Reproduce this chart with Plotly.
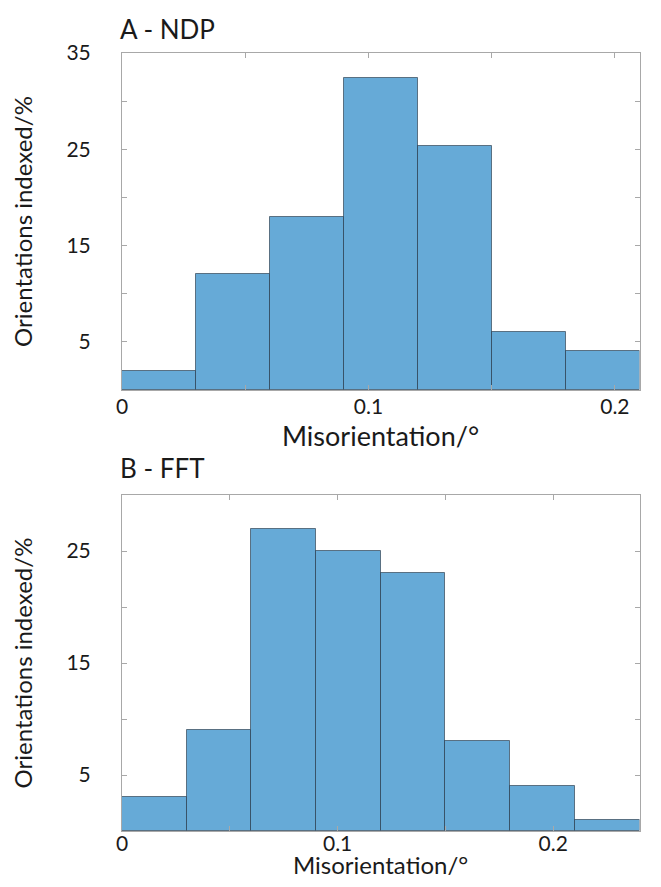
import plotly.graph_objects as go

# ---- data ----
bin_width = 0.03
ndp_bin_starts = [0.0, 0.03, 0.06, 0.09, 0.12, 0.15, 0.18]
ndp_values = [2, 12, 18, 32.4, 25.3, 6, 4]
fft_bin_starts = [0.0, 0.03, 0.06, 0.09, 0.12, 0.15, 0.18, 0.21]
fft_values = [3, 9, 27, 25, 23, 8, 4, 1]

x_tickvals = [0, 0.05, 0.1, 0.15, 0.2]
x_ticktext = ["0", "", "0.1", "", "0.2"]
ndp_y_tickvals = [0, 5, 10, 15, 20, 25, 30, 35]
ndp_y_ticktext = ["", "5", "", "15", "", "25", "", "35"]
fft_y_tickvals = [0, 5, 10, 15, 20, 25, 30]
fft_y_ticktext = ["", "5", "", "15", "", "25", ""]

titles = ["A - NDP", "B - FFT"]
x_title = "Misorientation/°"
y_title = "Orientations indexed/%"

FONT = "Lato, 'Open Sans', sans-serif"
BAR_FILL = "rgb(102,170,215)"
BAR_EDGE = "rgba(30,45,60,0.6)"
AX = "#a8a8a8"
TXT = "#1a1a1a"
TICK_SIZE = 21
XTITLE_SIZE = 27
YTITLE_SIZE = 24
TITLE_SIZE = 26

# page body has an 8px margin: size figure to fit window
PAD = 8
WIN_W, WIN_H = 661, 887
W, H = WIN_W - 2 * PAD, WIN_H - 2 * PAD

def px(x):
    return (x - PAD) / W

def py(y):
    return 1 - (y - PAD) / H

fig = go.Figure()

fig.add_trace(go.Bar(
    x=[s + bin_width / 2 for s in ndp_bin_starts], y=ndp_values, width=bin_width,
    marker=dict(color=BAR_FILL, line=dict(color=BAR_EDGE, width=1)),
    xaxis="x", yaxis="y", showlegend=False, hoverinfo="x+y"))
fig.add_trace(go.Bar(
    x=[s + bin_width / 2 for s in fft_bin_starts], y=fft_values, width=bin_width,
    marker=dict(color=BAR_FILL, line=dict(color=BAR_EDGE, width=1)),
    xaxis="x2", yaxis="y2", showlegend=False, hoverinfo="x+y"))

common_axis = dict(
    showline=True, mirror="allticks", linecolor=AX, linewidth=1,
    ticks="inside", ticklen=5, tickcolor=AX, tickwidth=1,
    showgrid=False, zeroline=False, automargin=False,
    tickfont=dict(family=FONT, size=TICK_SIZE, color=TXT),
)

x_left, x_right = 122, 639.5
xdom = [px(x_left), px(x_right)]
x_center = px((x_left + x_right) / 2)
yt = dict(text=y_title, font=dict(family=FONT, size=YTITLE_SIZE, color=TXT), standoff=30)

fig.update_layout(
    width=W, height=H,
    margin=dict(l=0, r=0, t=0, b=0, autoexpand=False),
    paper_bgcolor="white", plot_bgcolor="white",
    bargap=0,
    font=dict(family=FONT, color=TXT),
    xaxis=dict(domain=xdom, anchor="y", range=[0, 0.21],
               tickvals=x_tickvals, ticktext=x_ticktext, ticklabelstandoff=-2,
               **common_axis),
    yaxis=dict(domain=[py(390), py(53)], anchor="x", range=[0, 35],
               tickvals=ndp_y_tickvals, ticktext=ndp_y_ticktext, ticklabelstandoff=26,
               title=yt, **common_axis),
    xaxis2=dict(domain=xdom, anchor="y2", range=[0, 0.24],
                tickvals=x_tickvals, ticktext=x_ticktext, ticklabelstandoff=-6,
                **common_axis),
    yaxis2=dict(domain=[py(831), py(495)], anchor="x2", range=[0, 30],
                tickvals=fft_y_tickvals, ticktext=fft_y_ticktext, ticklabelstandoff=26,
                title=yt, **common_axis),
    annotations=[
        dict(text=titles[0], x=px(118), y=py(29), xref="paper", yref="paper",
             xanchor="left", yanchor="middle", showarrow=False,
             font=dict(family=FONT, size=TITLE_SIZE, color=TXT)),
        dict(text=titles[1], x=px(118), y=py(468), xref="paper", yref="paper",
             xanchor="left", yanchor="middle", showarrow=False,
             font=dict(family=FONT, size=TITLE_SIZE, color=TXT)),
        dict(text=x_title, x=x_center, y=py(435), xref="paper", yref="paper",
             xanchor="center", yanchor="middle", showarrow=False,
             font=dict(family=FONT, size=XTITLE_SIZE, color=TXT)),
        dict(text=x_title, x=x_center, y=py(864), xref="paper", yref="paper",
             xanchor="center", yanchor="middle", showarrow=False,
             font=dict(family=FONT, size=XTITLE_SIZE - 3, color=TXT)),
    ],
)

fig.write_html("out.html")
